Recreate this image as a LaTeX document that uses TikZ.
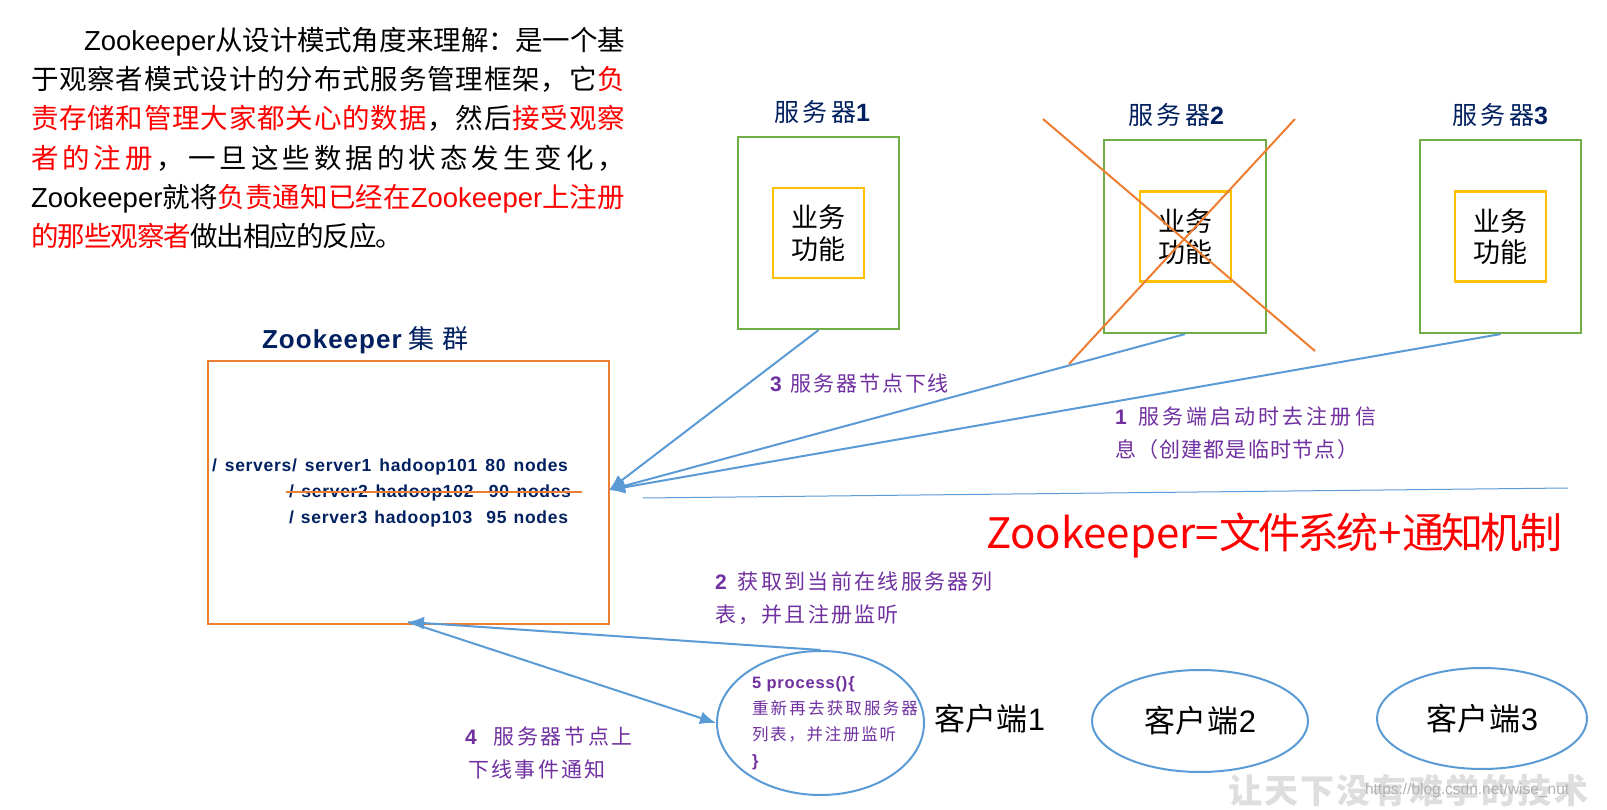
\documentclass[tikz,border=0pt]{standalone}
\usepackage{fontspec}
\usetikzlibrary{arrows.meta,shapes.geometric}
\setmainfont{Noto Sans CJK SC}
\newfontfamily\lat{Liberation Sans}
\newfontfamily\latsp[LetterSpace=4]{Liberation Sans}
\definecolor{navy}{HTML}{002060}
\definecolor{purp}{HTML}{7030A0}
\definecolor{orng}{HTML}{ED7D31}
\definecolor{grn}{HTML}{70AD47}
\definecolor{yel}{HTML}{FFC000}
\definecolor{blu}{HTML}{5B9BD5}
\definecolor{wm}{HTML}{DEDEDE}
\XeTeXinterchartokenstate=1
\newXeTeXintercharclass\cjkcl
\newcount\cjkn
\cjkn="3000 \loop\ifnum\cjkn<"3040 \XeTeXcharclass\cjkn=\cjkcl \advance\cjkn 1 \repeat
\cjkn="4E00 \loop\ifnum\cjkn<"A000 \XeTeXcharclass\cjkn=\cjkcl \advance\cjkn 1 \repeat
\cjkn="FF00 \loop\ifnum\cjkn<"FFF0 \XeTeXcharclass\cjkn=\cjkcl \advance\cjkn 1 \repeat
\XeTeXinterchartoks\cjkcl\cjkcl={\hskip 0pt plus 1fil minus 1fil\relax}
\newcommand{\jg}{\hskip 0pt plus 1fil minus 1fil\relax}
\newcommand{\fit}[2]{\makebox[#1pt][s]{#2}}
\newcommand{\fsz}[2]{\fontsize{#1}{#2}\selectfont}
\tikzset{
  x=1pt,y=-1pt,
  txt/.style={inner sep=0pt,outer sep=0pt,align=left,anchor=west},
  para/.style={txt,font=\fsz{27.5}{39.3},text=black},
  title/.style={txt,text=navy,font=\fsz{25}{30}},
  path1/.style={txt,text=navy,font=\fsz{17.5}{26}\latsp\bfseries},
  lab/.style={txt,text=purp,font=\fsz{21}{32.5}},
  lab5/.style={txt,text=purp,font=\fsz{16.5}{26}},
  client/.style={txt,text=black,font=\fsz{31}{36}},
  srv/.style={draw=grn,line width=2.2pt,inner sep=0pt,fill=white},
  biz/.style={draw=yel,line width=2.2pt,inner sep=0pt,align=center,font=\fsz{27}{31.5},text=black},
  zkbox/.style={draw=orng,line width=2.4pt,inner sep=0pt},
  elli/.style={ellipse,draw=blu,line width=2pt,inner sep=0pt,align=center,font=\fsz{31}{36},text=black},
  conn/.style={draw=blu,line width=2pt,-{Latex[length=16pt,width=13pt]}},
  cross/.style={draw=orng,line width=2pt},
}
\begin{document}
\begin{tikzpicture}
\useasboundingbox[fill=white] (0,0) rectangle (1607,810);
% watermark
\node[txt,text=wm,font=\fsz{34}{38}\bfseries] (wm1) at (1228,790) {\fit{360}{让天下没有难学的技术}};
\node[txt,text=black!30,font=\fsz{15.5}{18}\lat] (wm2) at (1365,790) {https://blog.csdn.net/wise\_nut};
% intro paragraph
\node[para,anchor=north west] (intro) at (31,27) {%
\fit{594}{\hspace*{53pt}{\lat Zookeeper}从设计模式角度来理解：是一个基}\\
\fit{594}{于观察者模式设计的分布式服务管理框架，它\jg{}\textcolor{red}{负}}\\
\fit{594}{\textcolor{red}{责存储和管理大家都关心的数据}\jg{}，然后\jg{}\textcolor{red}{接受观察}}\\
\fit{594}{\textcolor{red}{者的注册}\jg{}，一旦这些数据的状态发生变化，}\\
\fit{594}{{\lat Zookeeper}就将\jg{}\textcolor{red}{负责通知已经在{\lat Zookeeper}上注册}}\\
\fit{372}{\textcolor{red}{的那些观察者}\jg{}做出相应的反应。}};
% servers
\node[title] (t1) at (774,112) {\fit{96}{服务器{\lat\bfseries 1}}};
\node[title] (t2) at (1128,115) {\fit{96}{服务器{\lat\bfseries 2}}};
\node[title] (t3) at (1452,115) {\fit{96}{服务器{\lat\bfseries 3}}};
\node[srv,minimum width=161pt,minimum height=192pt] (s1) at (818.5,233) {};
\node[srv,minimum width=162pt,minimum height=193pt] (s2) at (1185,236.5) {};
\node[srv,minimum width=161pt,minimum height=193pt] (s3) at (1500.5,236.5) {};
\node[biz,minimum width=91pt,minimum height=90pt] (b1) at (818.5,233) {业务\\功能};
\node[biz,minimum width=91pt,minimum height=90pt] (b2) at (1185.5,236.5) {业务\\功能};
\node[biz,minimum width=91pt,minimum height=90pt] (b3) at (1500.5,236.5) {业务\\功能};
% zookeeper cluster
\node[title,font=\fsz{26}{30}] (zkt) at (262,340) {\fit{207}{{\latsp\bfseries Zookeeper}\hspace*{-1pt}\jg{}集群}};
\node[zkbox,minimum width=401pt,minimum height=263pt] (zk) at (408.5,492.5) {};
\node[path1] (p1) at (212,467) {\fit{356}{/ servers/ server1 hadoop101 80 nodes}};
\node[path1] (p2) at (289,493) {\fit{282}{/ server2 hadoop102 \ 90 nodes}};
\node[path1] (p3) at (289,519) {\fit{279}{/ server3 hadoop103 \ 95 nodes}};
\coordinate (sa) at (286,492);
\coordinate (sb) at (582,492);
\draw[cross,line width=2.4pt] (sa) -- (sb);
% clients
\node[elli,minimum width=207pt,minimum height=144pt] (c1) at (820.5,723) {};
\node[elli,minimum width=216pt,minimum height=102pt] (c2) at (1200,721) {\fit{112}{客户端{\lat 2}}};
\node[elli,minimum width=210pt,minimum height=101pt] (c3) at (1482,718.5) {\fit{112}{客户端{\lat 3}}};
\node[client] (c1t) at (934,719) {\fit{111}{客户端{\lat 1}}};
\node[lab5,anchor=north west] (c1in) at (752,677) {%
{\lat\bfseries\addfontfeature{LetterSpace=5} 5 process(){\{}}\\
\fit{166}{重新再去获取服务器}\\
\fit{144}{列表，并注册监听}\\
{\lat\bfseries\}}};
% labels
\node[lab] (l3) at (770,384) {\fit{179}{{\lat\bfseries 3}\hspace{7pt}\jg{}服务器节点下线}};
\node[lab,anchor=north west] (l1) at (1115,407) {\fit{261}{{\lat\bfseries 1}\hspace{9pt}\jg{}服务端启动时去注册信}\\\fit{243}{息（创建都是临时节点）}};
\node[lab,anchor=north west] (l2) at (715,572) {\fit{277}{{\lat\bfseries 2}\hspace{9pt}\jg{}获取到当前在线服务器列}\\\fit{184}{表，并且注册监听}};
\node[lab,anchor=north west] (l4) at (465,727) {\fit{168}{{\lat\bfseries 4}\hspace{14pt}\jg{}服务器节点上}\\\hspace*{3pt}\fit{138}{下线事件通知}};
\node[txt,text=red,font=\fsz{42}{50}] (formula) at (986,536) {\fit{576}{Zookeeper=文件系统+通知机制}};
% connectors
\coordinate (zkin) at (609,490);
\coordinate (zkb) at (408,622);
\draw[conn] (s1.south) -- (zkin);
\draw[conn] (s2.south) -- (zkin);
\draw[conn] (s3.south) -- (zkin);
\draw[conn] (c1.north) -- (zkb);
\draw[conn] (zkb) -- (c1.west);
\coordinate (la) at (643,498);
\coordinate (lb) at (1568,488);
\draw[draw=blu,line width=1pt] (la) -- (lb);
% cross over server 2
\coordinate (xa) at (1043,119);
\coordinate (xb) at (1315,351);
\coordinate (xc) at (1295,119);
\coordinate (xd) at (1069,364);
\draw[cross] (xa) -- (xb);
\draw[cross] (xc) -- (xd);
\end{tikzpicture}
\end{document}
